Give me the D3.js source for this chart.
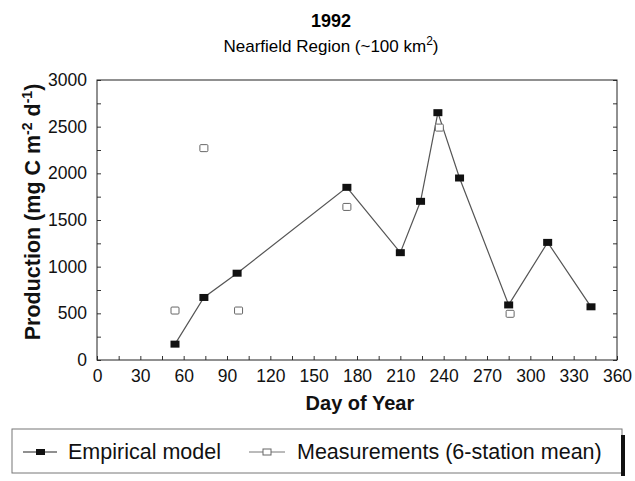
<!DOCTYPE html>
<html>
<head>
<meta charset="utf-8">
<script src="https://cdn.jsdelivr.net/npm/d3@7"></script>
<style>
  body { margin: 0; background: #fff; }
  svg { font-family: Arial, "Liberation Sans", sans-serif; }
</style>
</head>
<body>
<div id="chart"></div>
<script>
// empirical model (filled squares, joined)
let modelDays = [54, 74, 97, 173, 210, 224, 236, 251, 285, 312, 342];
let modelValues = [170, 670, 930, 1850, 1150, 1700, 2650, 1950, 590, 1260, 570];

// 6-station mean measurements (open squares)
let measDays = [54, 74, 98, 173, 237, 286];
let measValues = [530, 2270, 530, 1640, 2490, 495];

let xTicks = [0, 30, 60, 90, 120, 150, 180, 210, 240, 270, 300, 330, 360];
let yTicks = [0, 500, 1000, 1500, 2000, 2500, 3000];

let width = 635, height = 481;

let svg = d3.select("#chart").append("svg")
    .attr("width", width)
    .attr("height", height);

let x = d3.scaleLinear().domain([0, 360]).range([97, 617]);
let y = d3.scaleLinear().domain([0, 3000]).range([360, 80]);

// titles
svg.append("text")
    .attr("x", 331).attr("y", 27)
    .attr("text-anchor", "middle")
    .attr("font-size", 18).attr("font-weight", "bold")
    .text("1992");

let sub = svg.append("text")
    .attr("x", 331).attr("y", 52)
    .attr("text-anchor", "middle")
    .attr("font-size", 17);
sub.append("tspan").text("Nearfield Region (~100 km");
sub.append("tspan").attr("dy", -7).attr("font-size", 12).text("2");
sub.append("tspan").attr("dy", 7).text(")");

// axes (ticks point inwards)
let minorX = d3.range(0, 361, 15);
let minorY = d3.range(0, 3001, 250);

let xAxis = svg.append("g")
    .attr("transform", "translate(0,360)")
    .call(d3.axisBottom(x)
        .tickValues(minorX)
        .tickSize(-4)
        .tickPadding(10)
        .tickFormat(d => xTicks.includes(d) ? d : ""));

let yAxis = svg.append("g")
    .attr("transform", "translate(97,0)")
    .call(d3.axisLeft(y)
        .tickValues(minorY)
        .tickSize(-4)
        .tickPadding(10)
        .tickFormat(d => yTicks.includes(d) ? d : ""));

let yAxisR = svg.append("g")
    .attr("transform", "translate(617,0)")
    .call(d3.axisRight(y)
        .tickValues(minorY)
        .tickSize(-4)
        .tickFormat(""));

[xAxis, yAxis, yAxisR].forEach(g => {
    g.select(".domain").remove();
    g.selectAll("line").attr("stroke", "#333");
    g.selectAll("text")
        .attr("font-size", 17.5)
        .attr("font-family", "Arial, 'Liberation Sans', sans-serif")
        .attr("fill", "#111");
});

// frame
svg.append("rect")
    .attr("x", 97).attr("y", 80)
    .attr("width", 520).attr("height", 280)
    .attr("fill", "none")
    .attr("stroke", "#222")
    .attr("stroke-width", 1);

// axis titles
svg.append("text")
    .attr("x", x(182)).attr("y", 410)
    .attr("text-anchor", "middle")
    .attr("font-size", 20).attr("font-weight", "bold")
    .attr("fill", "#111")
    .text("Day of Year");

let yt = svg.append("text")
    .attr("transform", "translate(40,212) rotate(-90)")
    .attr("text-anchor", "middle")
    .attr("font-size", 21.5).attr("font-weight", "bold")
    .attr("fill", "#111");
yt.append("tspan").text("Production (mg C m");
yt.append("tspan").attr("dy", -8).attr("font-size", 14).text("-2");
yt.append("tspan").attr("dy", 8).text(" d");
yt.append("tspan").attr("dy", -8).attr("font-size", 14).text("-1");
yt.append("tspan").attr("dy", 8).text(")");

// model line
let model = modelDays.map((d, i) => ({day: d, value: modelValues[i]}));
let meas = measDays.map((d, i) => ({day: d, value: measValues[i]}));

let line = d3.line()
    .x(d => x(d.day))
    .y(d => y(d.value));

svg.append("path")
    .datum(model)
    .attr("d", line)
    .attr("fill", "none")
    .attr("stroke", "#555")
    .attr("stroke-width", 1.2);

svg.selectAll(".meas")
    .data(meas)
    .enter().append("rect")
    .attr("class", "meas")
    .attr("x", d => x(d.day) - 4)
    .attr("y", d => y(d.value) - 3.5)
    .attr("width", 8).attr("height", 7)
    .attr("rx", 1)
    .attr("fill", "#fff")
    .attr("stroke", "#666")
    .attr("stroke-width", 1);

svg.selectAll(".model")
    .data(model)
    .enter().append("rect")
    .attr("class", "model")
    .attr("x", d => x(d.day) - 4.5)
    .attr("y", d => y(d.value) - 3.5)
    .attr("width", 9).attr("height", 7)
    .attr("fill", "#111");

// legend
svg.append("rect")
    .attr("x", 12).attr("y", 429)
    .attr("width", 610).attr("height", 44)
    .attr("fill", "none")
    .attr("stroke", "#777");
svg.append("line")
    .attr("x1", 623).attr("x2", 623)
    .attr("y1", 435).attr("y2", 476)
    .attr("stroke", "#111").attr("stroke-width", 4);

let legendY = 452;
svg.append("line")
    .attr("x1", 23).attr("x2", 57)
    .attr("y1", legendY).attr("y2", legendY)
    .attr("stroke", "#222").attr("stroke-width", 1.2);
svg.append("rect")
    .attr("x", 36).attr("y", legendY - 3)
    .attr("width", 9).attr("height", 6)
    .attr("fill", "#111");
svg.append("text")
    .attr("x", 68).attr("y", legendY + 7)
    .attr("font-size", 21.5).attr("fill", "#111")
    .text("Empirical model");

svg.append("line")
    .attr("x1", 249).attr("x2", 285)
    .attr("y1", legendY).attr("y2", legendY)
    .attr("stroke", "#777").attr("stroke-width", 1);
svg.append("rect")
    .attr("x", 263).attr("y", legendY - 3)
    .attr("width", 8).attr("height", 6)
    .attr("fill", "#fff")
    .attr("stroke", "#666");
svg.append("text")
    .attr("x", 297).attr("y", legendY + 7)
    .attr("font-size", 21.5).attr("fill", "#111")
    .text("Measurements (6-station mean)");
</script>
</body>
</html>
